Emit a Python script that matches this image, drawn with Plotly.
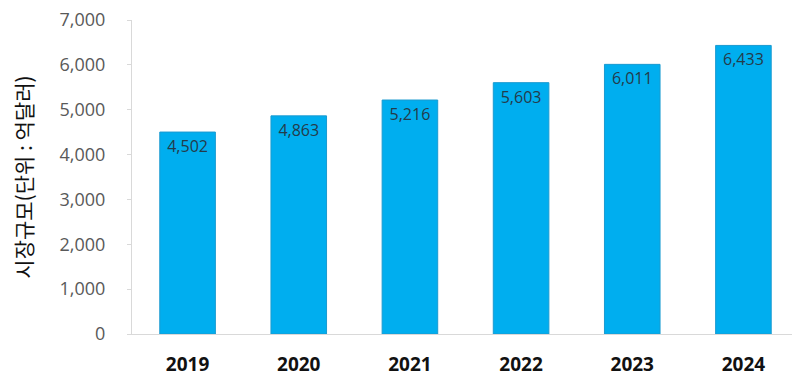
import plotly.graph_objects as go

years = ["2019", "2020", "2021", "2022", "2023", "2024"]
values = [4502, 4863, 5216, 5603, 6011, 6433]
y_ticks = [0, 1000, 2000, 3000, 4000, 5000, 6000, 7000]
y_title = "시장규모(단위 : 억달러)"

fig = go.Figure()
fig.add_trace(go.Bar(
    x=years, y=values,
    text=[f"{v:,}" for v in values],
    textposition="inside", insidetextanchor="end",
    textfont=dict(family="Open Sans, Noto Sans, sans-serif", size=16, color="#243B4A"),
    marker=dict(color="#00AEEF", line=dict(color="#1A9AD0", width=1)),
    hoverinfo="skip",
))

fig.update_layout(
    width=800, height=382,
    margin=dict(l=124, r=9, t=12, b=56, autoexpand=False),
    paper_bgcolor="white", plot_bgcolor="white",
    showlegend=False,
    bargap=0.5,
)
fig.update_xaxes(
    type="category",
    automargin=False,
    tickvals=years,
    ticktext=[f"<b>{y}</b>" for y in years],
    showline=True, linecolor="#D9D9D9", linewidth=1,
    showgrid=False, ticks="outside", ticklen=13, tickcolor="rgba(0,0,0,0)",
    tickfont=dict(family="Open Sans, Noto Sans, sans-serif", size=19, color="#111111"),
)
fig.update_yaxes(
    range=[0, 7000],
    automargin=False,
    ticklabeloverflow="allow",
    tickvals=y_ticks,
    tickformat=",",
    showline=True, linecolor="#D9D9D9", linewidth=1,
    showgrid=False, zeroline=False,
    ticks="outside", ticklen=4, tickcolor="#D9D9D9",
    ticklabelstandoff=18,
    tickfont=dict(family="Open Sans, Noto Sans, sans-serif", size=18, color="#595959"),
    title=dict(text=y_title, standoff=30,
               font=dict(family="Noto Sans CJK KR, sans-serif", size=21, color="#111111")),
)

fig.write_html("out.html")
